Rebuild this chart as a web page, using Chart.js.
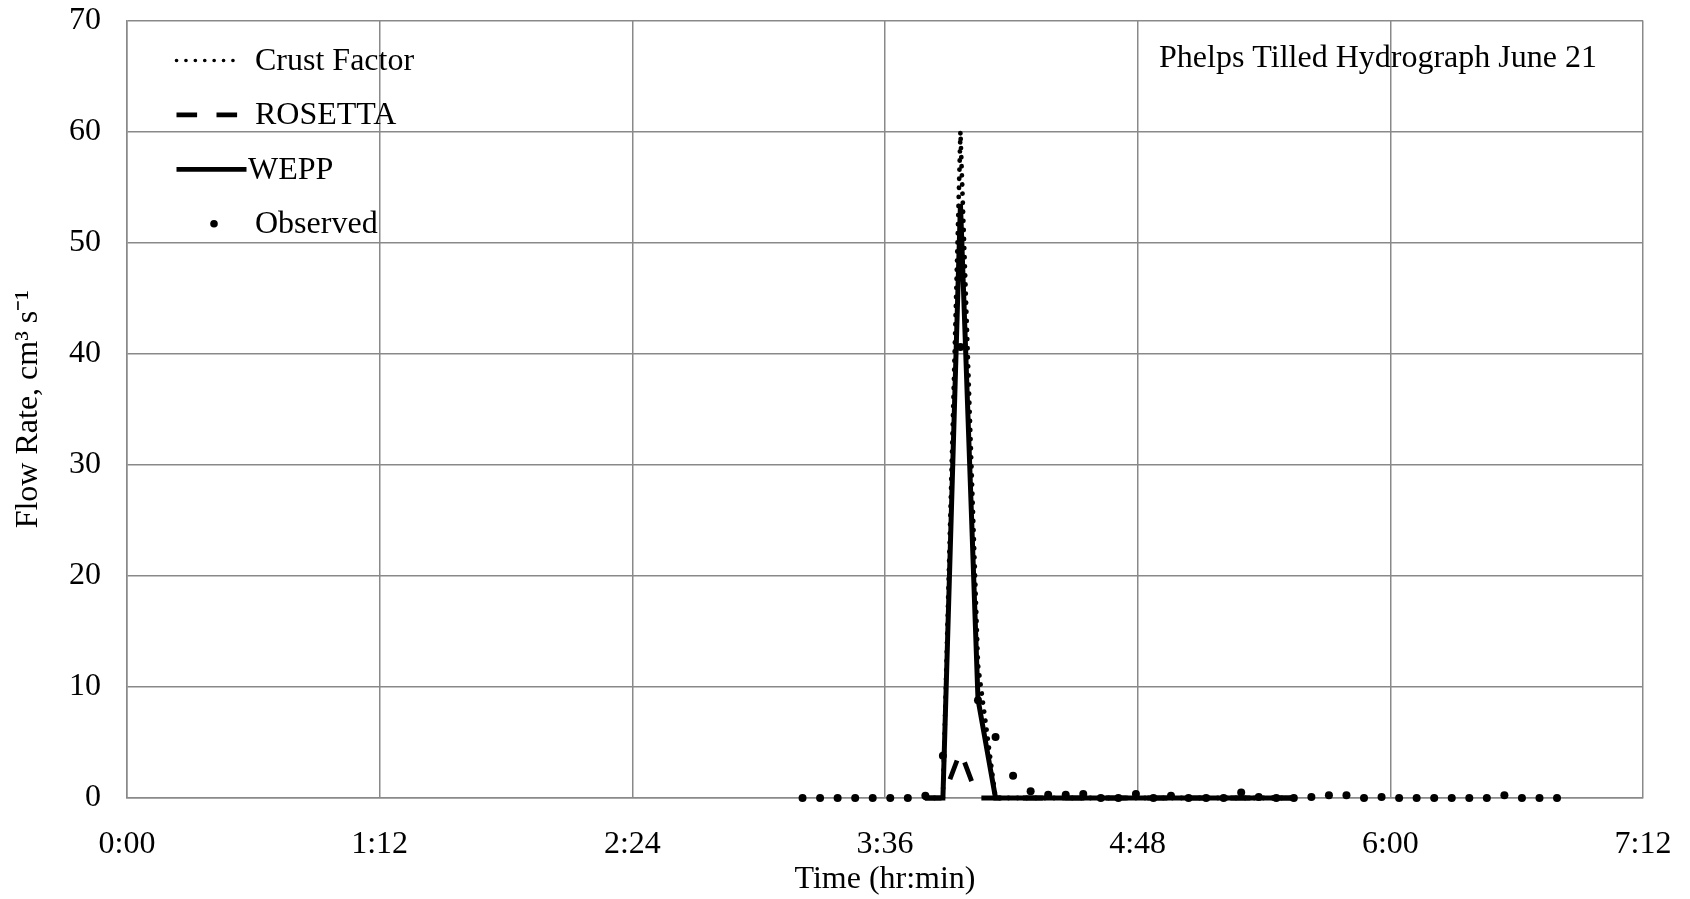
<!DOCTYPE html>
<html>
<head>
<meta charset="utf-8">
<title>Phelps Tilled Hydrograph June 21</title>
<script src="https://cdn.jsdelivr.net/npm/chart.js@4/dist/chart.umd.min.js"></script>
<style>
    html, body { margin: 0; padding: 0; background: #fff; }
</style>
</head>
<body>
<canvas id="hydro-canvas" width="1690" height="899"></canvas>
<script>
// time in minutes from start of run
const modelTimes = [227.5, 232.5, 237.5, 242.5, 247.5, 252.5, 257.5, 262.5, 267.5, 272.5, 277.5,
    282.5, 287.5, 292.5, 297.5, 302.5, 307.5, 312.5, 317.5, 322.5, 327.5, 332.5];
const crustFactor = [0, 0, 60, 12, 0, 0, 0, 0, 0, 0, 0, 0, 0, 0, 0, 0, 0, 0, 0, 0, 0, 0];
const rosetta = [0, 0, 4.2, 0, 0, 0, 0, 0, 0, 0, 0, 0, 0, 0, 0, 0, 0, 0, 0, 0, 0, 0];
const wepp = [0, 0, 53.5, 8.9, 0, 0, 0, 0, 0, 0, 0, 0, 0, 0, 0, 0, 0, 0, 0, 0, 0, 0];

const observedTimes = [192.5, 197.5, 202.5, 207.5, 212.5, 217.5, 222.5, 227.5, 232.5, 237.5, 242.5,
    247.5, 252.5, 257.5, 262.5, 267.5, 272.5, 277.5, 282.5, 287.5, 292.5, 297.5,
    302.5, 307.5, 312.5, 317.5, 322.5, 327.5, 332.5, 337.5, 342.5, 347.5, 352.5,
    357.5, 362.5, 367.5, 372.5, 377.5, 382.5, 387.5, 392.5, 397.5, 402.5, 407.5];
const observed = [0, 0, 0, 0, 0, 0, 0, 0.2, 3.8, 40.6, 8.8,
    5.5, 2.0, 0.6, 0.3, 0.3, 0.35, 0, 0, 0.35, 0, 0.2,
    0, 0, 0, 0.5, 0.1, 0, 0, 0.1, 0.25, 0.25, 0,
    0.1, 0, 0, 0, 0, 0, 0, 0.25, 0, 0, 0];

const seriesNames = ['Crust Factor', 'ROSETTA', 'WEPP', 'Observed'];
const chartTitle = 'Phelps Tilled Hydrograph June 21';
const xTitle = 'Time (hr:min)';
const yTitle = 'Flow Rate, cm\u00b3 s\u207b\u00b9';

const serif = "'Liberation Serif', 'Times New Roman', serif";
const fontSize = 32;
const gridColor = '#898989';

const toPoints = (xs, ys) => xs.map((x, i) => ({ x: x, y: ys[i] }));

const fmtTime = (v) => {
    const h = Math.floor(v / 60);
    const m = Math.round(v - h * 60);
    return h + ':' + String(m).padStart(2, '0');
}

// legend + title sit inside the plot, drawn by hand
const insideLabels = {
    id: 'insideLabels',
    afterDraw(chart) {
        const ctx = chart.ctx;
        const a = chart.chartArea;
        ctx.save();
        ctx.fillStyle = '#000';
        ctx.strokeStyle = '#000';
        ctx.font = fontSize + 'px ' + serif;
        ctx.textBaseline = 'alphabetic';

        ctx.fillText(chartTitle, a.left + 1032, a.top + 46);

        const x0 = a.left + 49.5;
        const rowY = (i) => a.top + 49.5 + i * 54.4;

        // Crust Factor - dotted
        ctx.lineWidth = 3.6;
        ctx.lineCap = 'round';
        ctx.setLineDash([0.1, 9.3]);
        ctx.beginPath();
        ctx.moveTo(x0, rowY(0) - 9.5);
        ctx.lineTo(x0 + 59, rowY(0) - 9.5);
        ctx.stroke();
        ctx.fillText(seriesNames[0], a.left + 128, rowY(0));

        // ROSETTA - dashed
        ctx.lineWidth = 4.8;
        ctx.lineCap = 'butt';
        ctx.setLineDash([20.6, 19.4]);
        ctx.beginPath();
        ctx.moveTo(x0, rowY(1) - 9.5);
        ctx.lineTo(x0 + 61, rowY(1) - 9.5);
        ctx.stroke();
        ctx.fillText(seriesNames[1], a.left + 128, rowY(1));

        // WEPP - solid
        ctx.setLineDash([]);
        ctx.beginPath();
        ctx.moveTo(x0, rowY(2) - 9.5);
        ctx.lineTo(x0 + 70, rowY(2) - 9.5);
        ctx.stroke();
        ctx.fillText(seriesNames[2], a.left + 121, rowY(2));

        // Observed - dot
        ctx.beginPath();
        ctx.arc(a.left + 87, rowY(3) - 9.5, 3.8, 0, Math.PI * 2);
        ctx.fill();
        ctx.fillText(seriesNames[3], a.left + 128, rowY(3));

        ctx.restore();
    }
};

const ctx = document.getElementById('hydro-canvas');

new Chart(ctx, {
    type: 'line',
    data: {
        datasets: [{
            label: seriesNames[0],
            data: toPoints(modelTimes, crustFactor),
            borderColor: '#000',
            borderWidth: 4.8,
            borderDash: [0.1, 9],
            borderCapStyle: 'round',
            pointRadius: 0,
            order: 3
        }, {
            label: seriesNames[1],
            data: toPoints(modelTimes, rosetta),
            borderColor: '#000',
            borderWidth: 4.8,
            borderDash: [20, 21.5],
            borderDashOffset: 3.9,
            pointRadius: 0,
            order: 2
        }, {
            label: seriesNames[2],
            data: toPoints(modelTimes, wepp),
            borderColor: '#000',
            borderWidth: 5,
            pointRadius: 0,
            order: 1
        }, {
            label: seriesNames[3],
            data: toPoints(observedTimes, observed),
            showLine: false,
            pointRadius: 4,
            pointBackgroundColor: '#000',
            pointBorderWidth: 0,
            order: 0
        }]
    },
    options: {
        responsive: false,
        animation: false,
        clip: false,
        layout: {
            padding: { top: 20.5, right: 47, left: 0, bottom: 0 }
        },
        scales: {
            x: {
                type: 'linear',
                min: 0,
                max: 432,
                afterFit: (s) => {
                    s.height = 101;
                    s.paddingLeft = 0;
                    s.paddingRight = 0;
                },
                ticks: {
                    stepSize: 72,
                    callback: (v) => fmtTime(v),
                    color: '#000',
                    padding: 27,
                    maxRotation: 0,
                    font: { family: serif, size: fontSize }
                },
                grid: { color: gridColor, lineWidth: 1.5, drawTicks: false },
                border: { color: gridColor, width: 1.5 },
                title: {
                    display: true,
                    text: xTitle,
                    color: '#000',
                    padding: { top: 0, bottom: 0 },
                    font: { family: serif, size: fontSize }
                }
            },
            y: {
                min: 0,
                max: 70,
                afterFit: (s) => {
                    s.width = 127;
                    s.paddingTop = 0;
                    s.paddingBottom = 0;
                },
                ticks: {
                    stepSize: 10,
                    color: '#000',
                    padding: 26,
                    font: { family: serif, size: fontSize }
                },
                grid: { color: gridColor, lineWidth: 1.5, drawTicks: false },
                border: { color: gridColor, width: 1.5 },
                title: {
                    display: true,
                    text: yTitle,
                    color: '#000',
                    padding: { top: 9, bottom: 0 },
                    font: { family: serif, size: fontSize }
                }
            }
        },
        plugins: {
            legend: { display: false },
            tooltip: { enabled: false }
        }
    },
    plugins: [insideLabels]
});
</script>
</body>
</html>
